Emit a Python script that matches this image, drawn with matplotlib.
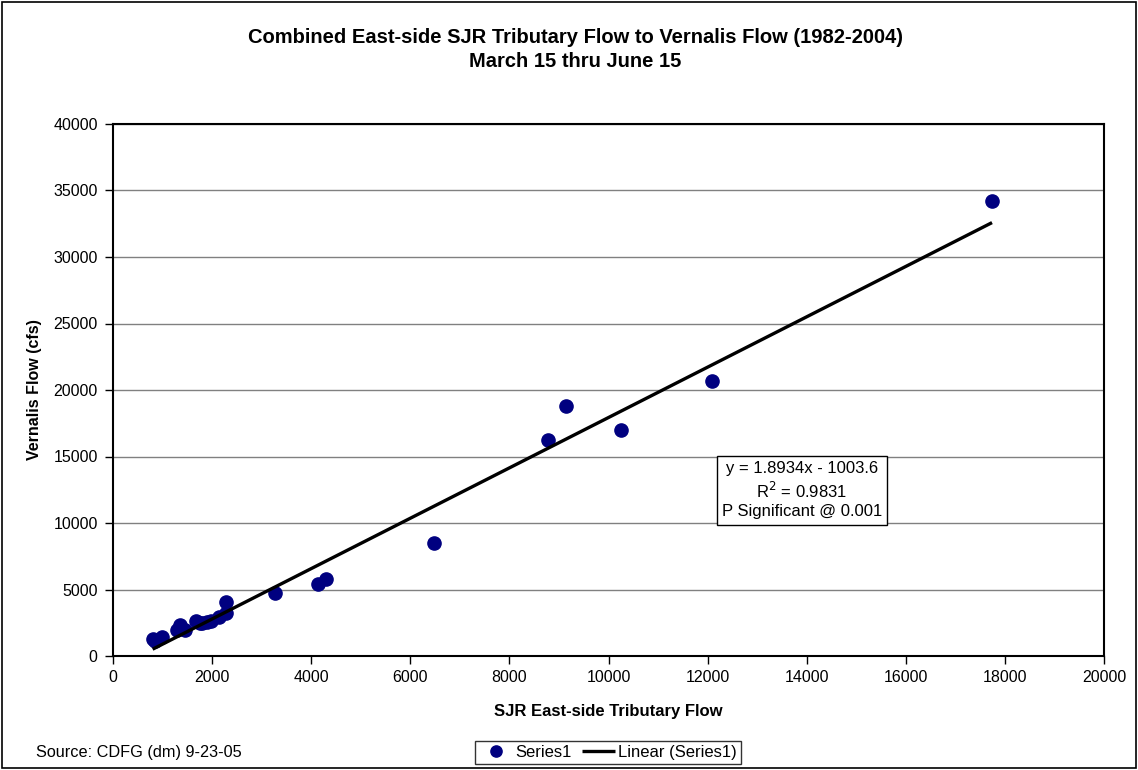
import matplotlib
matplotlib.use("Agg")
import matplotlib.pyplot as plt
from matplotlib.patches import Rectangle
import numpy as np

plt.rcParams['font.family'] = ['Liberation Sans', 'DejaVu Sans']

# Data
trib_flow = [800, 850, 980, 1300, 1350, 1450, 1680, 1750, 1790, 1900, 1980,
             2130, 2280, 2280, 3270, 4130, 4300, 6470, 8770, 9140, 10250,
             12080, 17740]
vernalis_flow = [1250, 1100, 1400, 1950, 2350, 1950, 2650, 2500, 2450, 2550,
                 2600, 2900, 3250, 4050, 4750, 5450, 5800, 8500, 16250, 18800,
                 17000, 20700, 34200]
slope = 1.8934
intercept = -1003.6
x_ticks = list(range(0, 20001, 2000))
y_ticks = list(range(0, 40001, 5000))

title = "Combined East-side SJR Tributary Flow to Vernalis Flow (1982-2004)\nMarch 15 thru June 15"

fig = plt.figure(figsize=(11.38, 7.70), dpi=100)
ax = fig.add_axes([113/1138, 1-656/770, (1104-113)/1138, (656-124)/770])

ax.set_xlim(0, 20000)
ax.set_ylim(0, 40000)
ax.set_xticks(x_ticks)
ax.set_yticks(y_ticks)
ax.tick_params(direction='out', length=6, width=1, labelsize=11.5)
ax.tick_params(axis='x', pad=4)
ax.tick_params(axis='y', pad=5)
for s in ax.spines.values():
    s.set_linewidth(1.5)
    s.set_color('black')
ax.yaxis.grid(True, color='#808080', linewidth=1)
ax.set_axisbelow(True)

sc, = ax.plot(trib_flow, vernalis_flow, linestyle='none', marker='o',
              markersize=9.5, color='#000080', markeredgecolor='#000080',
              label='Series1', zorder=3)
xl = np.array([min(trib_flow), max(trib_flow)])
ln, = ax.plot(xl, slope * xl + intercept, color='black', linewidth=2.4,
              label='Linear (Series1)', zorder=4, solid_capstyle='butt')

ax.set_xlabel('SJR East-side Tributary Flow', fontsize=12, fontweight='bold', labelpad=14)
ax.set_ylabel('Vernalis Flow (cfs)', fontsize=11.5, fontweight='bold', labelpad=8)

fig.text(575/1138, 1-49.5/770, title, ha='center', va='center', fontsize=14.5,
         fontweight='bold', linespacing=1.3)

ax.text(13905, 12450,
        "y = 1.8934x - 1003.6\nR$^2$ = 0.9831\nP Significant @ 0.001",
        ha='center', va='center', fontsize=12, linespacing=1.27,
        bbox=dict(boxstyle='square,pad=0.32', facecolor='white',
                  edgecolor='black', linewidth=1), zorder=5)

fig.text(36/1138, 1-752/770, 'Source: CDFG (dm) 9-23-05', ha='left',
         va='center', fontsize=11.7)

leg = fig.legend(handles=[sc, ln], loc='center', bbox_to_anchor=(608/1138, 1-752.5/770),
                 ncol=2, fontsize=12, frameon=True, fancybox=False,
                 edgecolor='black', handlelength=2.0, handletextpad=0.15,
                 columnspacing=0.6, borderpad=0.25, markerscale=0.85)
leg.get_frame().set_linewidth(1)

fig.patches.append(Rectangle((0.002, 0.002), 0.996, 0.996, transform=fig.transFigure,
                             fill=False, edgecolor='black', linewidth=1.2))

fig.savefig('out.png', dpi=100, facecolor='white')
